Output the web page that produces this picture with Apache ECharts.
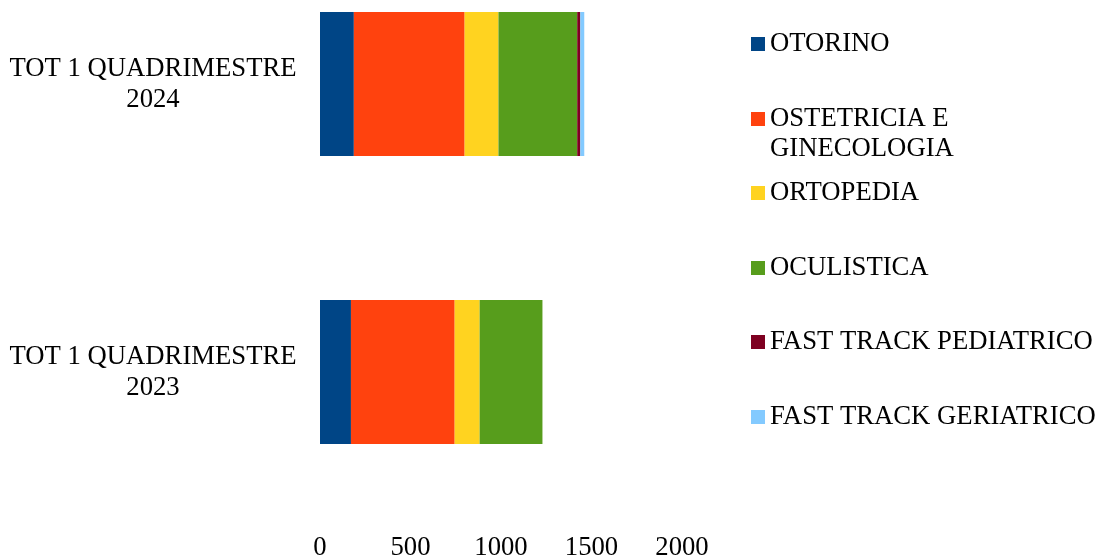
<!DOCTYPE html>
<html>
<head>
<meta charset="utf-8">
<script src="https://cdn.jsdelivr.net/npm/echarts@6/dist/echarts.min.js"></script>
<style>
html,body{margin:0;padding:0;background:#fff;}
#chart{width:1104px;height:559px;}
</style>
</head>
<body>
<div id="chart"></div>
<script>
// Categories (bottom to top)
const categories = ['TOT 1 QUADRIMESTRE 2023', 'TOT 1 QUADRIMESTRE 2024'];
const seriesNames = ['OTORINO', 'OSTETRICIA E GINECOLOGIA', 'ORTOPEDIA', 'OCULISTICA', 'FAST TRACK PEDIATRICO', 'FAST TRACK GERIATRICO'];
const otorino = [171, 187];
const ostetricia = [573, 612];
const ortopedia = [138, 187];
const oculistica = [347, 435];
const fastTrackPediatrico = [0, 17];
const fastTrackGeriatrico = [0, 22];
const xTicks = [0, 500, 1000, 1500, 2000];

const colors = ['#004586', '#FF420E', '#FFD320', '#579D1C', '#7E0021', '#83CAFF'];
const values = [otorino, ostetricia, ortopedia, oculistica, fastTrackPediatrico, fastTrackGeriatrico];
const font = 'Liberation Serif';
const fs = 26.7;

const legendCenters = [44, 119, 193, 268, 342, 417];
const legends = seriesNames.map((n, i) => {
  const multi = i === 1;
  return {
    data: [n],
    orient: 'vertical',
    left: 751,
    top: multi ? legendCenters[i] - 45 : legendCenters[i] - 13.5,
    padding: 0,
    itemWidth: 14,
    itemHeight: 14,
    icon: 'rect',
    selectedMode: false,
    formatter: multi ? () => ' \nOSTETRICIA E\nGINECOLOGIA' : undefined,
    textStyle: {
      fontFamily: font,
      fontSize: fs,
      color: '#000',
      lineHeight: multi ? 30 : 27
    }
  };
});

const chart = echarts.init(document.getElementById('chart'));
chart.setOption({
  animation: false,
  backgroundColor: '#fff',
  color: colors,
  legend: legends,
  grid: { left: 320, width: 362, top: 84, height: 288, containLabel: false, outerBoundsMode: 'none' },
  xAxis: {
    type: 'value',
    min: xTicks[0],
    max: xTicks[xTicks.length - 1],
    interval: 500,
    axisLine: { show: false },
    axisTick: { show: false },
    splitLine: { show: false },
    axisLabel: { fontFamily: font, fontSize: fs, color: '#000', margin: 162, formatter: v => String(v) }
  },
  yAxis: {
    type: 'category',
    data: categories,
    boundaryGap: false,
    axisLine: { show: false },
    axisTick: { show: false },
    splitLine: { show: false },
    axisLabel: {
      fontFamily: font, fontSize: fs, color: '#000', lineHeight: 31,
      align: 'center', margin: 167,
      formatter: v => v.replace(' 202', '\n202')
    }
  },
  series: seriesNames.map((n, i) => ({
    name: n,
    type: 'bar',
    stack: 'total',
    barWidth: 144,
    data: values[i],
    itemStyle: { color: colors[i] }
  }))
});
</script>
</body>
</html>
